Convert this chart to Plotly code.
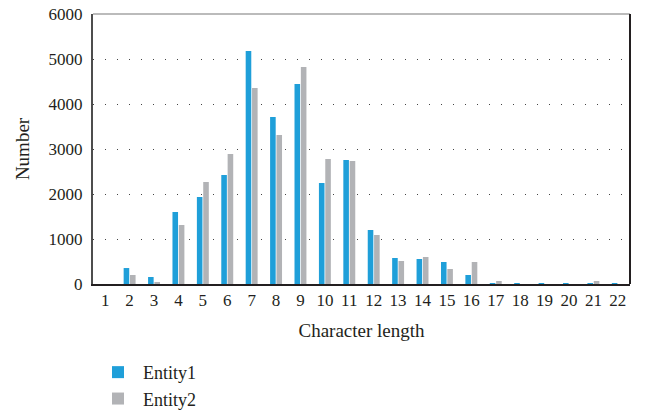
import plotly.graph_objects as go

categories = [str(i) for i in range(1, 23)]
entity1 = [0, 355, 155, 1600, 1933, 2422, 5178, 3711, 4444, 2244, 2756,
           1200, 578, 556, 489, 200, 8, 10, 5, 5, 10, 10]
entity2 = [0, 200, 44, 1311, 2267, 2889, 4356, 3311, 4822, 2778, 2733,
           1089, 511, 600, 333, 489, 67, 0, 0, 0, 67, 0]
y_ticks = [0, 1000, 2000, 3000, 4000, 5000, 6000]

font_family = "Liberation Serif"

fig = go.Figure()
fig.add_trace(go.Bar(x=categories, y=entity1, name="Entity1",
                     marker=dict(color="#1f9fd9", line=dict(width=0))))
fig.add_trace(go.Bar(x=categories, y=entity2, name="Entity2",
                     marker=dict(color="#b2b3b6", line=dict(width=0))))

fig.update_layout(
    width=653, height=413,
    margin=dict(l=93, r=23, t=14, b=129, autoexpand=False),
    paper_bgcolor="white", plot_bgcolor="white",
    barmode="group", bargap=0.48, bargroupgap=0.12,
    font=dict(family=font_family, size=16, color="#231f20"),
    showlegend=True,
    legend=dict(orientation="v", x=0.0, xanchor="left",
                yref="container", y=0.143, yanchor="top",
                font=dict(family=font_family, size=18, color="#231f20"),
                itemwidth=40, bgcolor="rgba(0,0,0,0)"),
    xaxis=dict(
        type="category", range=[-0.5, 21.5], automargin=False,
        showline=True, linecolor="#231f20", linewidth=2,
        ticks="", showgrid=False,
        tickfont=dict(family=font_family, size=17),
        title=dict(text="Character length", font=dict(family=font_family, size=19), standoff=14),
    ),
    yaxis=dict(
        range=[0, 6000], tickvals=y_ticks, automargin=False,
        showline=True, linecolor="#4d4d4d", linewidth=2,
        ticks="", showgrid=True, gridcolor="#444444", gridwidth=1,
        griddash="1px,11px", zeroline=False, ticklabelstandoff=5,
        ticklabeloverflow="allow",
        tickfont=dict(family=font_family, size=17),
        title=dict(text="Number", font=dict(family=font_family, size=19), standoff=14),
    ),
    shapes=[
        dict(type="line", xref="paper", yref="paper", x0=0, x1=1, y0=1, y1=1,
             line=dict(color="#bbbbbb", width=2)),
        dict(type="line", xref="paper", yref="paper", x0=1, x1=1, y0=0, y1=1,
             line=dict(color="#231f20", width=2)),
    ],
)

fig.write_html("out.html", config={"displayModeBar": False},
               post_script="document.body.style.margin='0';")
